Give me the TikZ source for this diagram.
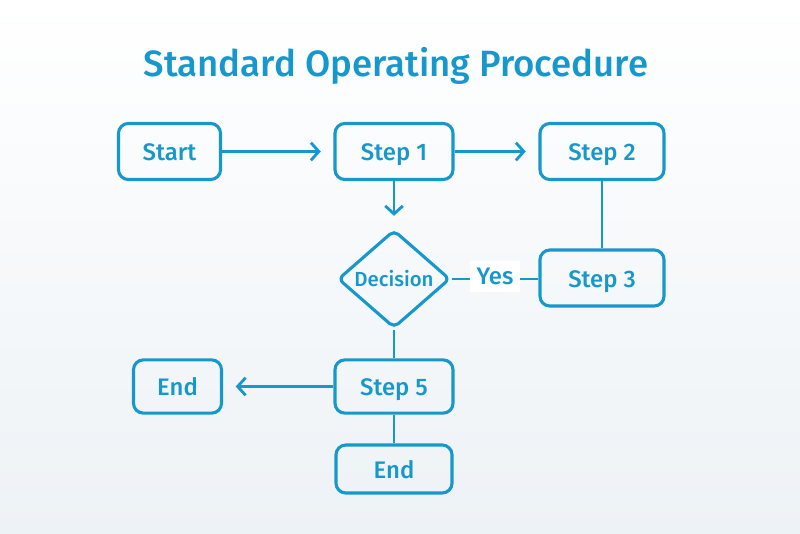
\documentclass[tikz,border=0pt]{standalone}
\usepackage{fontspec}
\setmainfont{Fira Sans}[BoldFont={Fira Sans Medium}]
\usetikzlibrary{positioning,calc,arrows.meta,shapes.geometric}
\definecolor{sopblue}{RGB}{22,152,204}
\definecolor{sopbg}{RGB}{237,242,246}
\tikzset{font=\large}

\begin{document}
\begin{tikzpicture}[x=0.025cm, y=-0.025cm]
	\shade[top color=white, middle color=white, bottom color=sopbg] (0,0) rectangle (800,533);
	\useasboundingbox (0,0) rectangle (800,533);
	\tikzstyle{every node}=[align=center, text=sopblue]
	\tikzstyle{stepbox}=[draw=sopblue, line width=2.2pt, rounded corners=7pt, minimum height=1.4cm, text height=13pt, text depth=0pt, font=\fontsize{17}{20}\selectfont\bfseries]
	\tikzstyle{link}=[draw=sopblue, line width=2pt]
	\tikzstyle{arr}=[link, -{Straight Barb[length=2mm, width=4.4mm, line width=2pt]}, shorten >=9pt]

	\node (title) at (396, 66) {\fontsize{26}{30}\selectfont\bfseries Standard Operating Procedure};

	\node[stepbox, minimum width=2.55cm] (start) at (169.5, 151.5) {Start};
	\node[stepbox, minimum width=2.95cm] (s1) at (394, 151.5) {Step 1};
	\node[stepbox, minimum width=3.1cm] (s2) at (602, 151.5) {Step 2};

	\node[diamond, draw=sopblue, line width=2.2pt, rounded corners=4pt, minimum width=2.8cm, minimum height=2.45cm, inner sep=0pt, aspect=1.15, text height=11pt, text depth=0pt, font=\fontsize{14.5}{17}\selectfont\bfseries] (dec) at (394, 279) {Decision};
	\node[stepbox, minimum width=3.1cm] (s3) at (602, 278) {Step 3};

	\node[stepbox, minimum width=2.95cm, minimum height=1.33cm] (s5) at (394, 386.5) {Step 5};
	\node[stepbox, minimum width=2.2cm, minimum height=1.33cm] (endl) at (177.5, 386.5) {End};
	\node[stepbox, minimum width=2.9cm, minimum height=1.2cm] (endb) at (394, 469) {End};

	\draw [arr] (start) to (s1);
	\draw [arr] (s1) to (s2);
	\draw [arr] (s1) to (dec);
	\draw [link] (s2) to (s3);
	\draw [link] (dec.east) to node[fill=white, inner sep=5pt, yshift=2pt, font=\fontsize{17}{20}\selectfont\bfseries] {Yes} (s3.west |- dec.east);
	\draw [link] (dec) to (s5);
	\draw [arr] (s5) to (endl);
	\draw [link] (s5) to (endb);
\end{tikzpicture}
\end{document}
